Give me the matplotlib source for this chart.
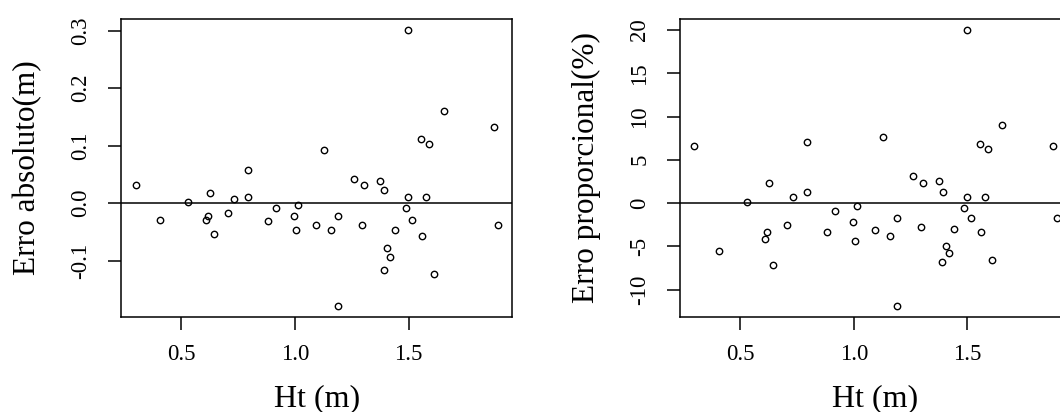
import matplotlib
matplotlib.use('Agg')
import matplotlib.pyplot as plt

# total height (m) and the residuals of the height model
ht = [0.299, 0.406, 0.529, 0.626, 0.617, 0.608, 0.645, 0.705, 0.733, 0.793,
      0.793, 0.881, 0.916, 0.995, 1.005, 1.014, 1.092, 1.127, 1.160, 1.188,
      1.188, 1.260, 1.294, 1.303, 1.373, 1.392, 1.390, 1.407, 1.419, 1.441,
      1.487, 1.496, 1.497, 1.515, 1.557, 1.559, 1.576, 1.592, 1.610, 1.654,
      1.875, 1.892]
erro_abs = [0.032, -0.029, 0.002, 0.017, -0.023, -0.029, -0.053, -0.017, 0.007, 0.057,
            0.010, -0.032, -0.008, -0.023, -0.047, -0.004, -0.038, 0.093, -0.047, -0.023,
            -0.179, 0.042, -0.038, 0.032, 0.039, 0.023, -0.117, -0.078, -0.093, -0.047,
            -0.008, 0.301, 0.010, -0.029, 0.112, -0.057, 0.010, 0.102, -0.124, 0.161,
            0.133, -0.038]
erro_pct = [6.6, -5.6, 0.15, 2.35, -3.3, -4.15, -7.2, -2.5, 0.73, 7.0,
            1.3, -3.3, -0.88, -2.15, -4.4, -0.3, -3.15, 7.65, -3.77, -1.73,
            -11.9, 3.15, -2.77, 2.35, 2.54, 1.3, -6.8, -4.96, -5.77, -2.96,
            -0.54, 20.0, 0.73, -1.73, 6.85, -3.35, 0.73, 6.2, -6.6, 9.04,
            6.6, -1.73]

x_ticks = [0.5, 1.0, 1.5]
x_labels = ['0.5', '1.0', '1.5']
abs_ticks = [-0.1, 0.0, 0.1, 0.2, 0.3]
abs_labels = ['-0.1', '0.0', '0.1', '0.2', '0.3']
pct_ticks = [-10, -5, 0, 5, 10, 15, 20]
pct_labels = ['-10', '-5', '0', '5', '10', '15', '20']

plt.rcParams['font.family'] = 'Liberation Serif'

fig = plt.figure(figsize=(10.6, 4.12), dpi=100)
ax1 = fig.add_axes([0.1142, 0.2306, 0.3689, 0.7233])
ax2 = fig.add_axes([0.6415, 0.2306, 0.3689, 0.7233])

panels = [
    (ax1, erro_abs, abs_ticks, abs_labels, 'Erro absoluto(m)'),
    (ax2, erro_pct, pct_ticks, pct_labels, 'Erro proporcional(%)'),
]

for ax, err, yt, yl, ylab in panels:
    ax.plot(ht, err, 'o', ms=4.6, mfc='none', mec='black', mew=1.0)
    ax.axhline(0, color='black', lw=1.1)
    ax.margins(x=0.04, y=0.04)

    ax.set_xticks(x_ticks)
    ax.set_xticklabels(x_labels)
    ax.set_yticks(yt)
    ax.set_yticklabels(yl, rotation=90, va='center')
    ax.tick_params(direction='out', length=9.5, width=1.1, labelsize=16.5)
    ax.tick_params(axis='x', pad=10)
    ax.tick_params(axis='y', pad=12)
    for s in ax.spines.values():
        s.set_linewidth(1.1)

    ax.set_xlabel('Ht (m)', fontsize=23, va='center')
    ax.xaxis.set_label_coords(0.5, -0.275)
    ax.set_ylabel(ylab, fontsize=22.5, va='center')
    ax.yaxis.set_label_coords(-0.239, 0.5)

fig.savefig('out.png', dpi=100)
